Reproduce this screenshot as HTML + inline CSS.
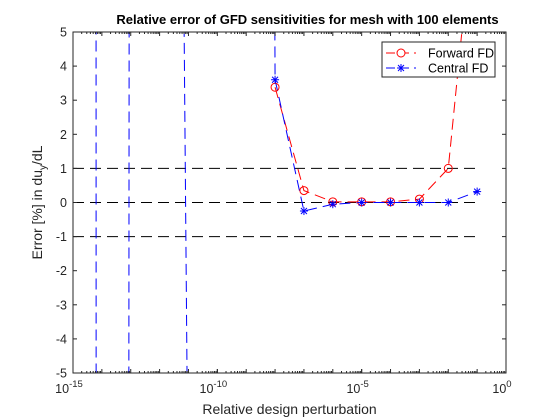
<!DOCTYPE html>
<html><head><meta charset="utf-8"><style>
html,body{margin:0;background:#fff;overflow:hidden;width:560px;height:420px;}
svg{display:block;font-family:"Liberation Sans",sans-serif;}
</style></head><body>
<svg id="chart" width="560" height="420"></svg>
<script>
const xExp = [-15,-14,-13,-12,-11,-10,-9,-8,-7,-6,-5,-4,-3,-2,-1];
const forwardVals = [null,null,null,null,null,null,null,3.38,0.35,0.02,0.02,0.02,0.1,1.0,9.5];
const centralVals = [4000,-1000,64,90,-10,null,200,3.6,-0.25,-0.05,0,0,0,0,0.32];
const refLines = [1,0,-1];
const yTicks = [-5,-4,-3,-2,-1,0,1,2,3,4,5];
const xTickExps = [-15,-10,-5,0];

const svg = document.getElementById('chart');
const NS = 'http://www.w3.org/2000/svg';
const L=73,R=506,T=32,B=373;
const DASH='11,6';
const xs = e => L + (e+15)/15*(R-L);
const ys = v => B - (v+5)/10*(B-T);
function mk(tag, attrs, parent){const el=document.createElementNS(NS,tag);for(const k in attrs)el.setAttribute(k,attrs[k]);(parent||svg).appendChild(el);return el;}

mk('rect',{x:L,y:T,width:R-L,height:B-T,fill:'#fff'});
const clip = mk('clipPath',{id:'pc'}); mk('rect',{x:L,y:T,width:R-L,height:B-T},clip);
const g = mk('g',{'clip-path':'url(#pc)'});

refLines.forEach(v=>{
  const el = mk('line',{x1:xs(-15),x2:xs(-1),y1:ys(v),y2:ys(v),stroke:'#000','stroke-width':1,'stroke-dasharray':DASH},g);
  
  
});

function series(vals,color,name){
  let d='',pen=false;
  vals.forEach((v,i)=>{
    if(v===null){pen=false;return;}
    d+=(pen?'L':'M')+xs(xExp[i]).toFixed(2)+','+ys(v).toFixed(2);pen=true;
  });
  const p = mk('path',{d:d,fill:'none',stroke:color,'stroke-width':1,'stroke-dasharray':DASH},g);
  
  
}
series(forwardVals,'#ff0000','forward-fd');
series(centralVals,'#0000ff','central-fd');

function star(x,y,parent,color){
  const gg=mk('g',{stroke:color,'stroke-width':1},parent);
  mk('line',{x1:x-4,y1:y,x2:x+4,y2:y},gg);
  mk('line',{x1:x,y1:y-4,x2:x,y2:y+4},gg);
  mk('line',{x1:x-3,y1:y-3,x2:x+3,y2:y+3},gg);
  mk('line',{x1:x-3,y1:y+3,x2:x+3,y2:y-3},gg);
  return gg;
}
forwardVals.forEach((v,i)=>{
  if(v===null)return;
  const c=mk('circle',{cx:xs(xExp[i]),cy:ys(v),r:4,fill:'none',stroke:'#ff0000','stroke-width':1},g);
  
  
});
centralVals.forEach((v,i)=>{
  if(v===null)return;
  const s=star(xs(xExp[i]),ys(v),g,'#0000ff');
  
  
});

mk('rect',{x:L,y:T,width:R-L,height:B-T,fill:'none',stroke:'#262626','stroke-width':1});
yTicks.forEach(v=>{
  const y=ys(v);
  mk('line',{x1:L,x2:L+4,y1:y,y2:y,stroke:'#262626'});
  mk('line',{x1:R,x2:R-4,y1:y,y2:y,stroke:'#262626'});
  const t=mk('text',{x:L-6,y:y+4.5,'text-anchor':'end','font-size':12.5,fill:'#262626'});
  t.textContent=v;
  
  
});
for(let e=-15;e<0;e++){
  for(let k=1;k<10;k++){
    const x=xs(e+Math.log10(k));
    const len=(k===1)?4:2;
    mk('line',{x1:x,x2:x,y1:B,y2:B-len,stroke:'#262626'});
    mk('line',{x1:x,x2:x,y1:T,y2:T+len,stroke:'#262626'});
  }
}
xTickExps.forEach(e=>{
  const x=xs(e);
  mk('line',{x1:x,x2:x,y1:B,y2:B-4,stroke:'#262626'});
  const t=mk('text',{x:x-4,y:B+20,'text-anchor':'middle','font-size':12.5,fill:'#262626'});
  t.textContent='10';
  const s=mk('tspan',{dy:-6,'font-size':9.5},t); s.textContent=String(e);
  
  
});

let t=mk('text',{x:(L+R)/2+18,y:24,'text-anchor':'middle','font-size':13,'font-weight':'bold',fill:'#000'});
t.textContent='Relative error of GFD sensitivities for mesh with 100 elements';
 
t=mk('text',{x:(L+R)/2,y:414,'text-anchor':'middle','font-size':14,fill:'#262626'});
t.textContent='Relative design perturbation';
 
t=mk('text',{x:0,y:0,'text-anchor':'middle','font-size':14,fill:'#262626',transform:'translate(42,'+((T+B)/2)+') rotate(-90)'});
t.innerHTML='Error [%] in du<tspan dy="4" font-size="10">y</tspan><tspan dy="-4">/dL</tspan>';
 

const lg=mk('g',{});
 
mk('rect',{x:382,y:42,width:113,height:35,fill:'#fff',stroke:'#262626'},lg);
mk('line',{x1:386,x2:416,y1:53,y2:53,stroke:'#ff0000','stroke-dasharray':'9,5'},lg);
mk('circle',{cx:401,cy:53,r:4,fill:'#fff',stroke:'#ff0000'},lg);
t=mk('text',{x:428,y:57.5,'font-size':12.5,fill:'#000'},lg); t.textContent='Forward FD';
 
mk('line',{x1:386,x2:416,y1:68,y2:68,stroke:'#0000ff','stroke-dasharray':'9,5'},lg);
star(401,68,lg,'#0000ff');
t=mk('text',{x:428,y:72.5,'font-size':12.5,fill:'#000'},lg); t.textContent='Central FD';
 
</script>
</body></html>
